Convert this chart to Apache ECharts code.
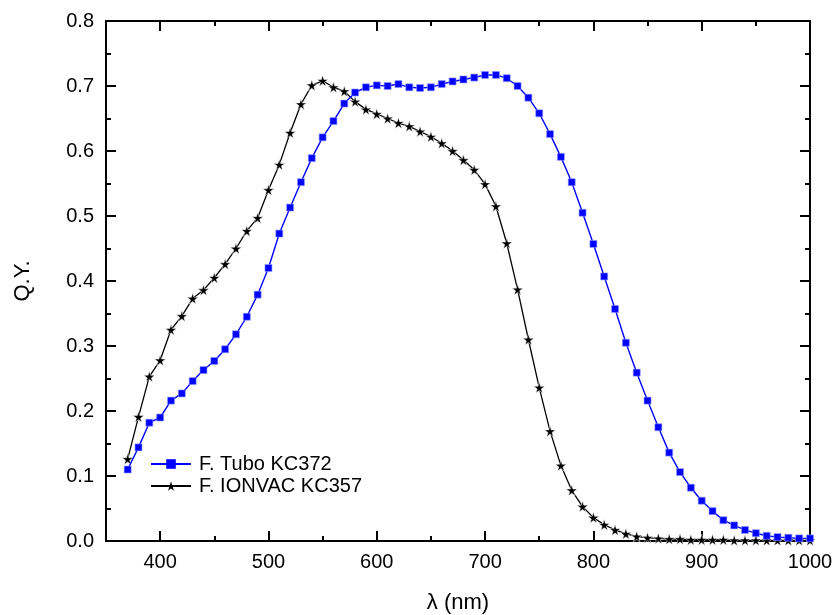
<!DOCTYPE html>
<html><head><meta charset="utf-8">
<script src="https://cdn.jsdelivr.net/npm/echarts@6/dist/echarts.min.js"></script>
<style>html,body{margin:0;padding:0;background:#fff}#c{width:833px;height:615px}</style>
</head><body><div id="c"></div>
<script>
const wavelengths = [370,380,390,400,410,420,430,440,450,460,470,480,490,500,510,520,530,540,550,560,570,580,590,600,610,620,630,640,650,660,670,680,690,700,710,720,730,740,750,760,770,780,790,800,810,820,830,840,850,860,870,880,890,900,910,920,930,940,950,960,970,980,990,1000];
const tuboKC372 = [0.110,0.144,0.182,0.190,0.216,0.227,0.246,0.263,0.277,0.295,0.318,0.345,0.379,0.420,0.473,0.513,0.552,0.589,0.621,0.646,0.673,0.690,0.698,0.701,0.700,0.703,0.698,0.697,0.698,0.703,0.707,0.710,0.713,0.717,0.717,0.712,0.700,0.682,0.658,0.626,0.591,0.552,0.505,0.457,0.407,0.357,0.305,0.259,0.216,0.175,0.136,0.106,0.082,0.062,0.046,0.032,0.024,0.017,0.012,0.008,0.006,0.005,0.004,0.004];
const ionvacKC357 = [0.126,0.191,0.253,0.278,0.325,0.346,0.373,0.386,0.405,0.426,0.450,0.477,0.497,0.540,0.579,0.628,0.672,0.701,0.708,0.698,0.692,0.676,0.664,0.657,0.650,0.643,0.638,0.630,0.622,0.612,0.600,0.586,0.571,0.549,0.515,0.458,0.387,0.310,0.236,0.169,0.116,0.078,0.053,0.036,0.025,0.017,0.011,0.007,0.005,0.004,0.003,0.003,0.002,0.002,0.002,0.002,0.001,0.001,0.001,0.001,0.001,0.001,0.001,0.001];
const xMajorTicks = [400,500,600,700,800,900,1000];
const xMinorTicks = [350,450,550,650,750,850,950];
const seriesNames = ['F. Tubo KC372','F. IONVAC KC357'];
const xTitle = 'λ (nm)';
const yTitle = 'Q.Y.';

const STAR = 'path://M50,0 L61,35 L98,35 L68,57 L79,91 L50,70 L21,91 L32,57 L2,35 L39,35 Z';
const FONT = '"Liberation Sans", Arial, sans-serif';
const chart = echarts.init(document.getElementById('c'), null, {renderer:'canvas'});
const axisLine = {show:true, lineStyle:{color:'#000', width:2}};
function xAx(pos, major, showLabel, showName) {
  return {
    type:'value', position:pos, min:350, max:1000,
    axisLine: major ? axisLine : {show:false},
    splitLine:{show:false},
    axisTick:{show:true, inside:true, length: major?10:5, lineStyle:{color:'#000', width:2},
      customValues: major ? xMajorTicks : xMinorTicks},
    axisLabel:{show:showLabel, customValues:xMajorTicks, color:'#000', fontSize:20, fontFamily:FONT, margin:11,
      formatter: v => String(v)},
    name: showName ? xTitle : '', nameLocation:'middle', nameGap:51,
    nameTextStyle:{color:'#000', fontSize:22, fontFamily:FONT}
  };
}
function yAx(pos, showLabel, showName) {
  return {
    type:'value', position:pos, min:0, max:0.8, interval:0.1,
    axisLine: axisLine, splitLine:{show:false},
    axisTick:{show:true, inside:true, length:10, lineStyle:{color:'#000', width:2}},
    minorTick:{show:true, splitNumber:2, length:5, lineStyle:{color:'#000', width:2}},
    axisLabel:{show:showLabel, color:'#000', fontSize:20, fontFamily:FONT, margin:12,
      formatter: v => v.toFixed(1)},
    name: showName ? yTitle : '', nameLocation:'middle', nameGap:72, nameRotate:90,
    nameTextStyle:{color:'#000', fontSize:22, fontFamily:FONT}
  };
}
chart.setOption({
  animation:false,
  grid:{left:106, right:23, top:21, bottom:74, containLabel:false, outerBoundsMode:'none'},
  xAxis:[xAx('bottom',true,true,true), xAx('bottom',false,false,false), xAx('top',true,false,false), xAx('top',false,false,false)],
  yAxis:[yAx('left',true,true), yAx('right',false,false)],
  legend:{
    orient:'vertical', left:145, top:449, itemGap:2, itemWidth:40, itemHeight:12,
    textStyle:{color:'#000', fontSize:20, fontFamily:FONT, padding:[0,0,0,3]},
    data:[
      {name:seriesNames[0], itemStyle:{borderWidth:0}},
      {name:seriesNames[1], itemStyle:{borderWidth:0}}
    ]
  },
  series:[
    {name:seriesNames[0], type:'line', xAxisIndex:0, yAxisIndex:0,
     data: wavelengths.map((w,i)=>[w, tuboKC372[i]]),
     symbol:'rect', symbolSize:7,
     lineStyle:{color:'#0000ff', width:1.4},
     itemStyle:{color:'#0000ff', borderColor:'#8f9bff', borderWidth:0.6}, z:3},
    {name:seriesNames[1], type:'line', xAxisIndex:0, yAxisIndex:0,
     data: wavelengths.map((w,i)=>[w, ionvacKC357[i]]),
     symbol:STAR, symbolSize:11,
     lineStyle:{color:'#000', width:1.3},
     itemStyle:{color:'#000', borderColor:'#fff', borderWidth:0.5}, z:2}
  ]
});
</script></body></html>
